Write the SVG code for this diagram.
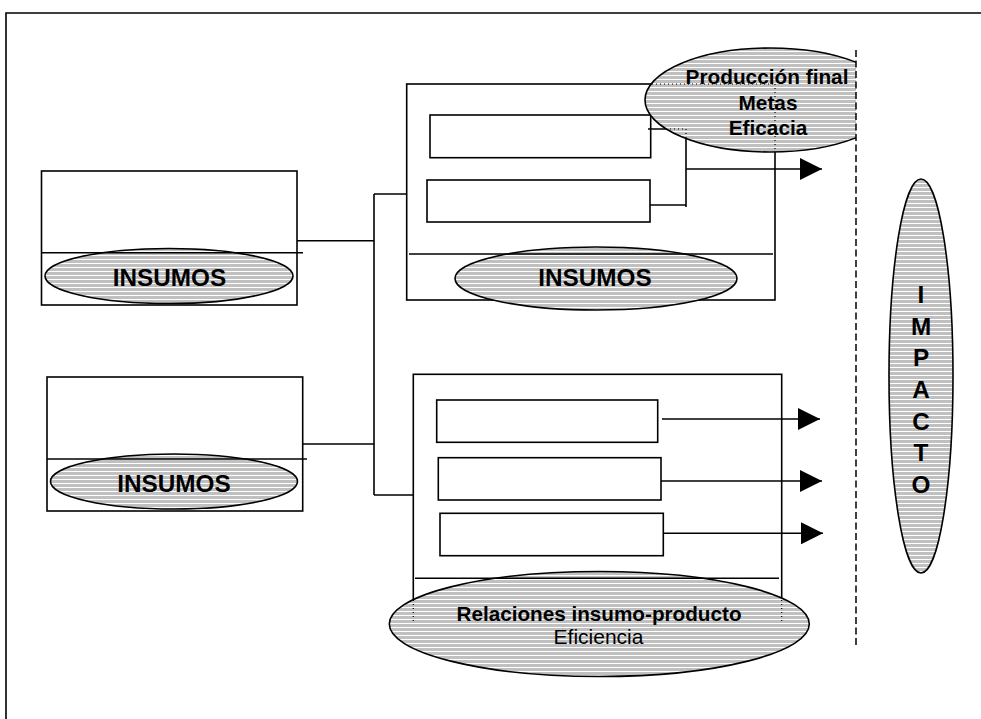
<svg xmlns="http://www.w3.org/2000/svg" width="981" height="719" viewBox="0 0 981 719">
<style>
.box{fill:#fff;stroke:#000;stroke-width:1.6}
.ln{fill:none;stroke:#000;stroke-width:1.6}
.el{fill:url(#hatch);stroke:#000;stroke-width:1.6}
.dot{fill:none;stroke:#000;stroke-width:1.2;stroke-dasharray:1 3}
.tb{font-family:"Liberation Sans",Arial,sans-serif;font-weight:bold;text-anchor:middle;fill:#000}
.tr{font-family:"Liberation Sans",Arial,sans-serif;text-anchor:middle;fill:#000}
.arr{fill:none;stroke:#000;stroke-width:1.6;marker-end:url(#ah)}
</style>
<defs>
<pattern id="hatch" patternUnits="userSpaceOnUse" width="8" height="4">
<rect width="8" height="4" fill="#c0c0c0"/>
<rect y="3" width="8" height="1" fill="#fff"/>
</pattern>
<marker id="ah" markerUnits="userSpaceOnUse" markerWidth="22" markerHeight="22" refX="22" refY="11" orient="auto">
<path d="M0,0 L22,11 L0,22 z" fill="#000"/>
</marker>
<clipPath id="clipProd"><rect x="600" y="0" width="256" height="200"/></clipPath>
</defs>
<rect width="981" height="719" fill="#fff"/>
<g id="frame">
<path class="ln" d="M6,719 V13 H981" stroke-width="1.8"/>
</g>
<g id="node-insumos-1">
<rect class="box" x="41.5" y="171" width="255.5" height="134"/>
<ellipse class="el" cx="169" cy="276" rx="124" ry="27.5"/>
<line class="ln" x1="41.5" y1="252.7" x2="303" y2="252.7"/>
<text class="tb" x="169.5" y="286" font-size="24.3">INSUMOS</text>
</g>
<g id="node-insumos-2">
<rect class="box" x="47" y="377" width="255.7" height="134"/>
<ellipse class="el" cx="174" cy="481.5" rx="123.5" ry="27.5"/>
<line class="ln" x1="47" y1="459" x2="307" y2="459"/>
<text class="tb" x="174" y="491.7" font-size="24.3">INSUMOS</text>
</g>
<g id="node-proceso-1">
<rect class="box" x="406.7" y="84" width="368.3" height="216"/>
<rect class="box" x="430" y="115" width="220.7" height="42.7"/>
<rect class="box" x="427" y="180" width="223" height="42"/>
<ellipse class="el" cx="596" cy="278.5" rx="141" ry="31.5"/>
<line class="ln" x1="409" y1="254" x2="773" y2="254"/>
<text class="tb" x="595" y="286" font-size="24.3">INSUMOS</text>
</g>
<g id="node-proceso-2">
<rect class="box" x="413.3" y="374.3" width="368.4" height="246"/>
<rect class="box" x="436.7" y="400" width="221" height="42.3"/>
<rect class="box" x="438.3" y="457.7" width="222.7" height="42.3"/>
<rect class="box" x="440" y="513.3" width="223.3" height="42.4"/>
<ellipse class="el" cx="599.3" cy="624" rx="210" ry="52.5"/>
<line class="ln" x1="415" y1="578.3" x2="779" y2="578.3"/>
<line class="dot" x1="413.3" y1="600" x2="413.3" y2="621"/>
<line class="dot" x1="781.7" y1="600" x2="781.7" y2="621"/>
<text class="tb" x="599" y="620.7" font-size="20.7">Relaciones insumo-producto</text>
<text class="tr" x="598.5" y="644.3" font-size="21">Eficiencia</text>
</g>
<g id="connectors">
<path class="ln" d="M297,240.7 H374"/>
<path class="ln" d="M302.7,444 H374"/>
<path class="ln" d="M374,194 V495"/>
<path class="ln" d="M374,194 H406.7"/>
<path class="ln" d="M374,495 H413.3"/>
<path class="ln" d="M648,129 H686"/>
<path class="ln" d="M686,129 V207"/>
<path class="ln" d="M650,205 H686"/>
<path class="arr" d="M686,169 H822"/>
<path class="arr" d="M662,419 H820"/>
<path class="arr" d="M661,481 H822"/>
<path class="arr" d="M663,533.3 H823"/>
</g>
<g id="node-produccion">
<ellipse class="el" cx="770" cy="100" rx="125" ry="52" clip-path="url(#clipProd)"/>
<line class="dot" x1="775" y1="84" x2="775" y2="152"/>
<line class="dot" x1="652" y1="84" x2="775" y2="84"/>
<line class="dot" x1="686" y1="129" x2="686" y2="139"/>
<line class="dot" x1="666" y1="129" x2="686" y2="129"/>
<text class="tb" x="767" y="84.3" font-size="20.8">Producción final</text>
<text class="tb" x="768" y="110" font-size="20.8">Metas</text>
<text class="tb" x="768" y="135" font-size="20.8">Eficacia</text>
</g>
<g id="separator">
<line x1="856" y1="50" x2="856" y2="648" stroke="#000" stroke-width="1.5" stroke-dasharray="7 3.5"/>
</g>
<g id="node-impacto">
<ellipse class="el" cx="921" cy="376" rx="32" ry="197"/>
<text class="tb" x="921" y="303" font-size="24.3">I</text>
<text class="tb" x="921" y="335" font-size="24.3">M</text>
<text class="tb" x="921" y="366" font-size="24.3">P</text>
<text class="tb" x="921" y="398" font-size="24.3">A</text>
<text class="tb" x="921" y="430" font-size="24.3">C</text>
<text class="tb" x="921" y="461" font-size="24.3">T</text>
<text class="tb" x="921" y="493" font-size="24.3">O</text>
</g>
</svg>
